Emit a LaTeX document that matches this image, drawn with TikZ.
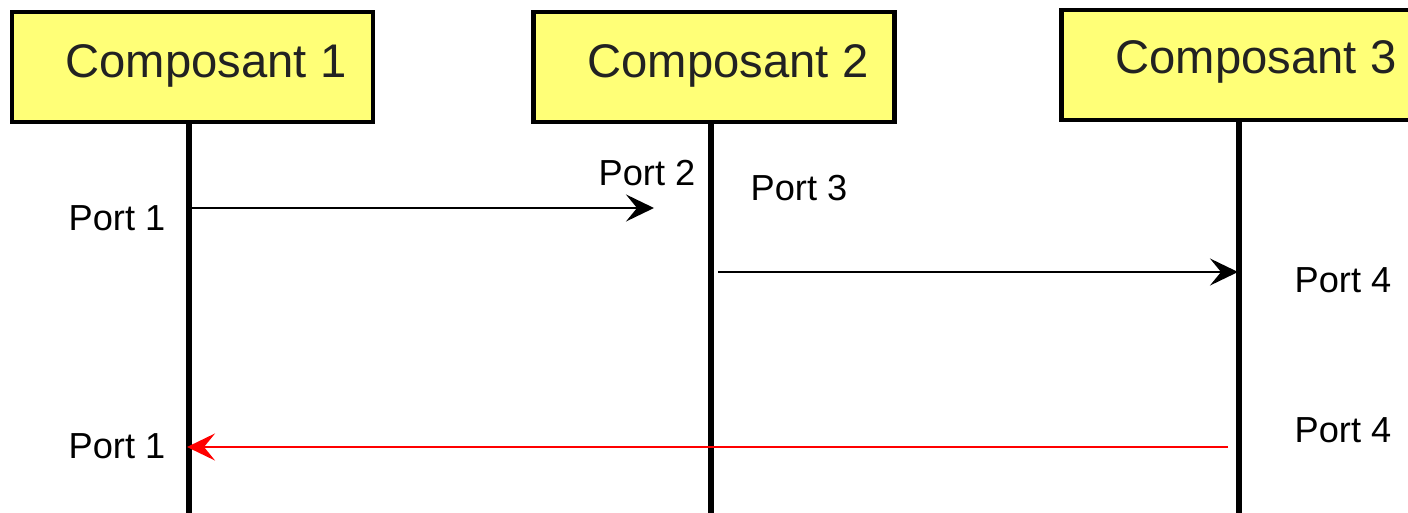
\documentclass[tikz,border=0pt]{standalone}
\usepackage{fontspec}
\setmainfont{Liberation Sans}
\usetikzlibrary{arrows.meta}
\definecolor{boxyellow}{RGB}{255,255,119}
\definecolor{boxtext}{RGB}{34,34,34}
\tikzset{
  comp/.style={draw,line width=2.4pt,fill=boxyellow,minimum width=361*0.5pt,minimum height=110*0.5pt,inner sep=0pt},
  compname/.style={text=boxtext,font=\fontsize{23.6}{26}\selectfont},
  life/.style={line width=3pt},
  msg/.style={line width=1.1pt,-{Stealth[length=14pt,width=13.5pt,inset=5.5pt]}},
  port/.style={font=\fontsize{18.1}{20}\selectfont}
}
\begin{document}
\begin{tikzpicture}[x=0.5pt,y=-0.5pt]
\useasboundingbox (0,0) rectangle (1408,513);
\clip (0,0) rectangle (1408,513);
% components
\node (c1) at (192.5,67) [comp] {};
\node (c2) at (714,67) [comp] {};
\node (c3) at (1242,65) [comp] {};
\node (n1) at (206,66) [compname] {Composant 1};
\node (n2) at (728,66) [compname] {Composant 2};
\node (n3) at (1256,62) [compname] {Composant 3};
% lifelines
\coordinate (l1) at (189,520);
\coordinate (l2) at (711,520);
\coordinate (l3) at (1239,520);
\draw [life] (c1.south -| l1) -- (l1);
\draw [life] (c2.south -| l2) -- (l2);
\draw [life] (c3.south -| l3) -- (l3);
% messages
\coordinate (a1) at (190,208);
\coordinate (a2) at (654,208);
\coordinate (b1) at (718,272);
\coordinate (b2) at (1238,272);
\coordinate (r1) at (1228,447);
\coordinate (r2) at (187,447);
\draw [msg] (a1) -- (a2);
\draw [msg] (b1) -- (b2);
\draw [msg,red] (r1) -- (r2);
% ports
\node (p1)  at (117,218) [port] {Port 1};
\node (p2)  at (647,173) [port] {Port 2};
\node (p3)  at (799,188) [port] {Port 3};
\node (p4)  at (1343,280) [port] {Port 4};
\node (p4b) at (1343,430) [port] {Port 4};
\node (p1b) at (117,446) [port] {Port 1};
\end{tikzpicture}
\end{document}
